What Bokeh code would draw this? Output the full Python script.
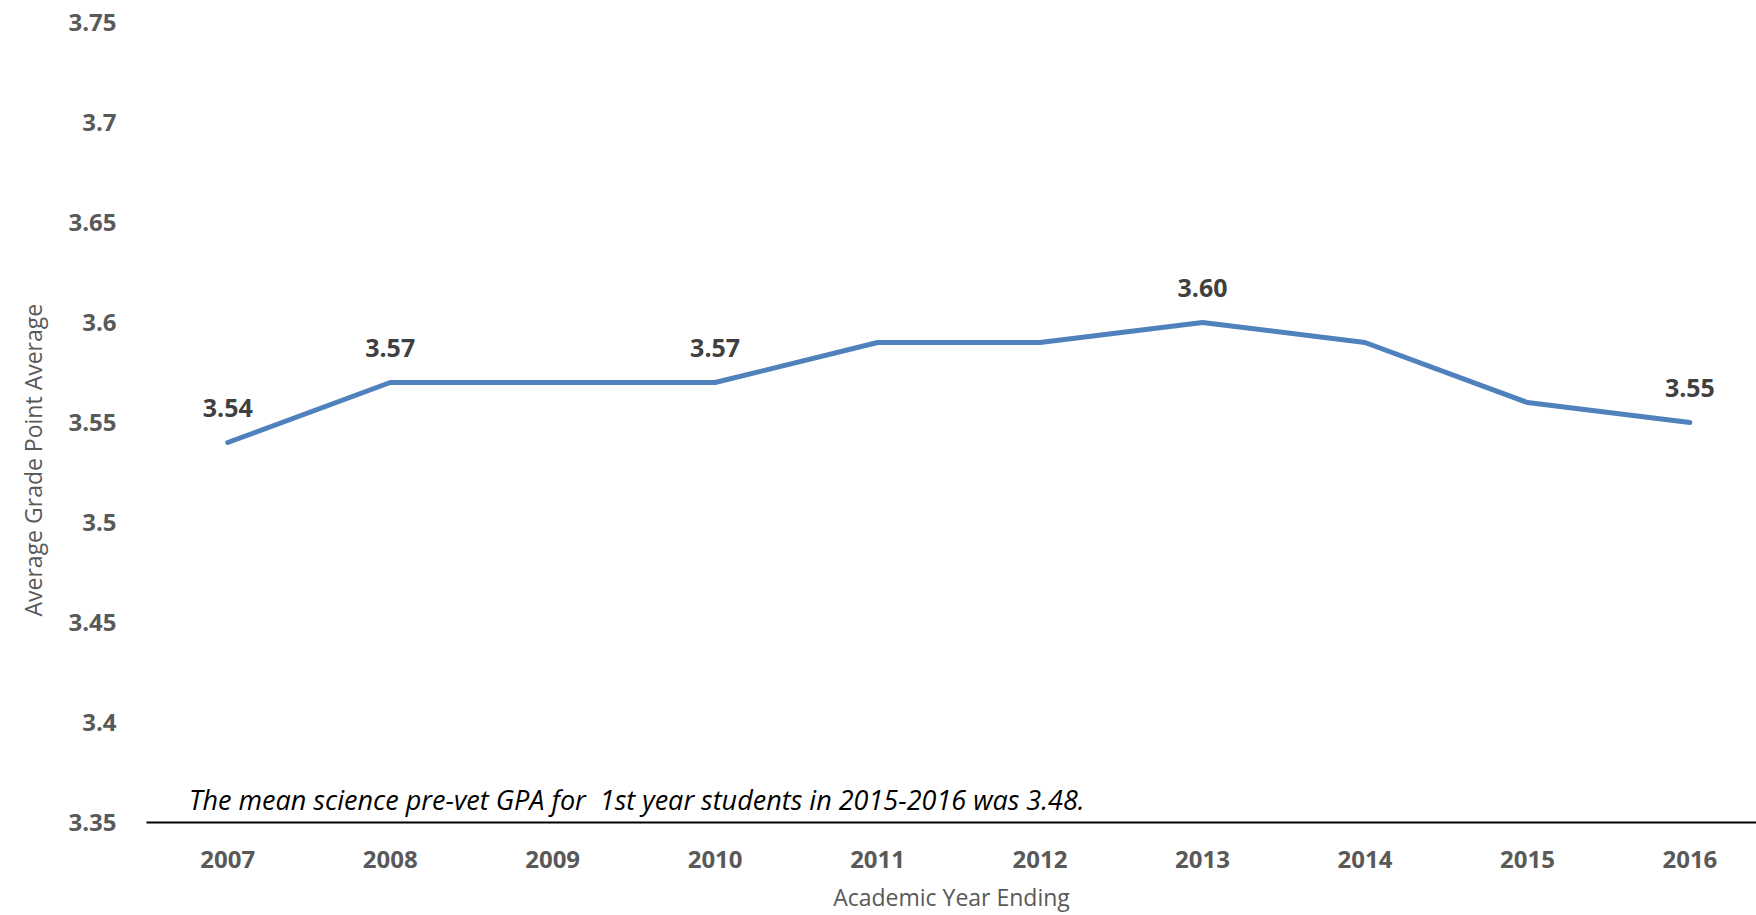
from bokeh.plotting import figure
from bokeh.models import Range1d, FixedTicker, Label, ColumnDataSource, Title
from bokeh.core.properties import value
from bokeh.embed import file_html
from bokeh.resources import INLINE

years = [2007, 2008, 2009, 2010, 2011, 2012, 2013, 2014, 2015, 2016]
year_labels = ["2007", "2008", "2009", "2010", "2011", "2012", "2013", "2014", "2015", "2016"]
gpa = [3.54, 3.57, 3.57, 3.57, 3.59, 3.59, 3.60, 3.59, 3.56, 3.55]
labelled_years = [2007, 2008, 2010, 2013, 2016]
y_ticks = [3.35, 3.4, 3.45, 3.5, 3.55, 3.6, 3.65, 3.7, 3.75]
y_tick_labels = ["3.35", "3.4", "3.45", "3.5", "3.55", "3.6", "3.65", "3.7", "3.75"]
note = "The mean science pre-vet GPA for \u00a01st year students in 2015-2016 was 3.48."
x_title = "Academic Year Ending"
y_title = "Average Grade Point Average"

FONT = "Open Sans"

p = figure(width=1756, height=915, output_backend="svg", toolbar_location=None,
           x_range=Range1d(2006.5, 2016.41), y_range=Range1d(3.35, 3.75),
           min_border_left=146, min_border_right=0, min_border_top=22, min_border_bottom=92)
p.outline_line_color = None
p.xgrid.visible = False
p.ygrid.visible = False
p.background_fill_color = "white"
p.border_fill_color = "white"

p.line(years, gpa, line_color="#4f81bd", line_width=5, line_join="round", line_cap="round")

lab_idx = [years.index(y) for y in labelled_years]
src = ColumnDataSource(dict(x=[years[i] for i in lab_idx], y=[gpa[i] for i in lab_idx],
                            t=["%.2f" % gpa[i] for i in lab_idx]))
p.text(x="x", y="y", text="t", source=src, y_offset=-35, text_align="center",
       text_baseline="middle", text_font=value(FONT), text_font_style="bold",
       text_font_size="25px", text_color="#404040")

xa = p.xaxis[0]
xa.ticker = FixedTicker(ticks=years)
xa.major_label_overrides = {y: l for y, l in zip(years, year_labels)}
xa.major_tick_line_color = None
xa.minor_tick_line_color = None
xa.axis_line_color = "black"
xa.axis_line_width = 2
xa.major_label_standoff = 22
xa.major_label_text_font = FONT
xa.major_label_text_font_style = "bold"
xa.major_label_text_font_size = "24px"
xa.major_label_text_color = "#595959"
xa.axis_label = x_title
xa.axis_label_text_font = FONT
xa.axis_label_text_font_style = "normal"
xa.axis_label_text_font_size = "23px"
xa.axis_label_text_color = "#595959"
xa.axis_label_standoff = 10

ya = p.yaxis[0]
ya.ticker = FixedTicker(ticks=y_ticks)
ya.major_label_overrides = {t: l for t, l in zip(y_ticks, y_tick_labels)}
ya.major_tick_line_color = None
ya.minor_tick_line_color = None
ya.axis_line_color = None
ya.major_label_standoff = 24
ya.major_label_text_font = FONT
ya.major_label_text_font_style = "bold"
ya.major_label_text_font_size = "24px"
ya.major_label_text_color = "#595959"

p.add_layout(Title(text=y_title, text_font=FONT, text_font_style="normal",
                   text_font_size="23px", text_color="#595959", align="left",
                   vertical_align="top", offset=206, standoff=30), "left")

p.add_layout(Label(x=2006.762, y=3.3614, text=note, text_font=FONT, text_font_style="italic",
                   text_font_size="27px", text_color="black", text_baseline="alphabetic"))

open("out.html", "w").write(file_html(p, INLINE))
